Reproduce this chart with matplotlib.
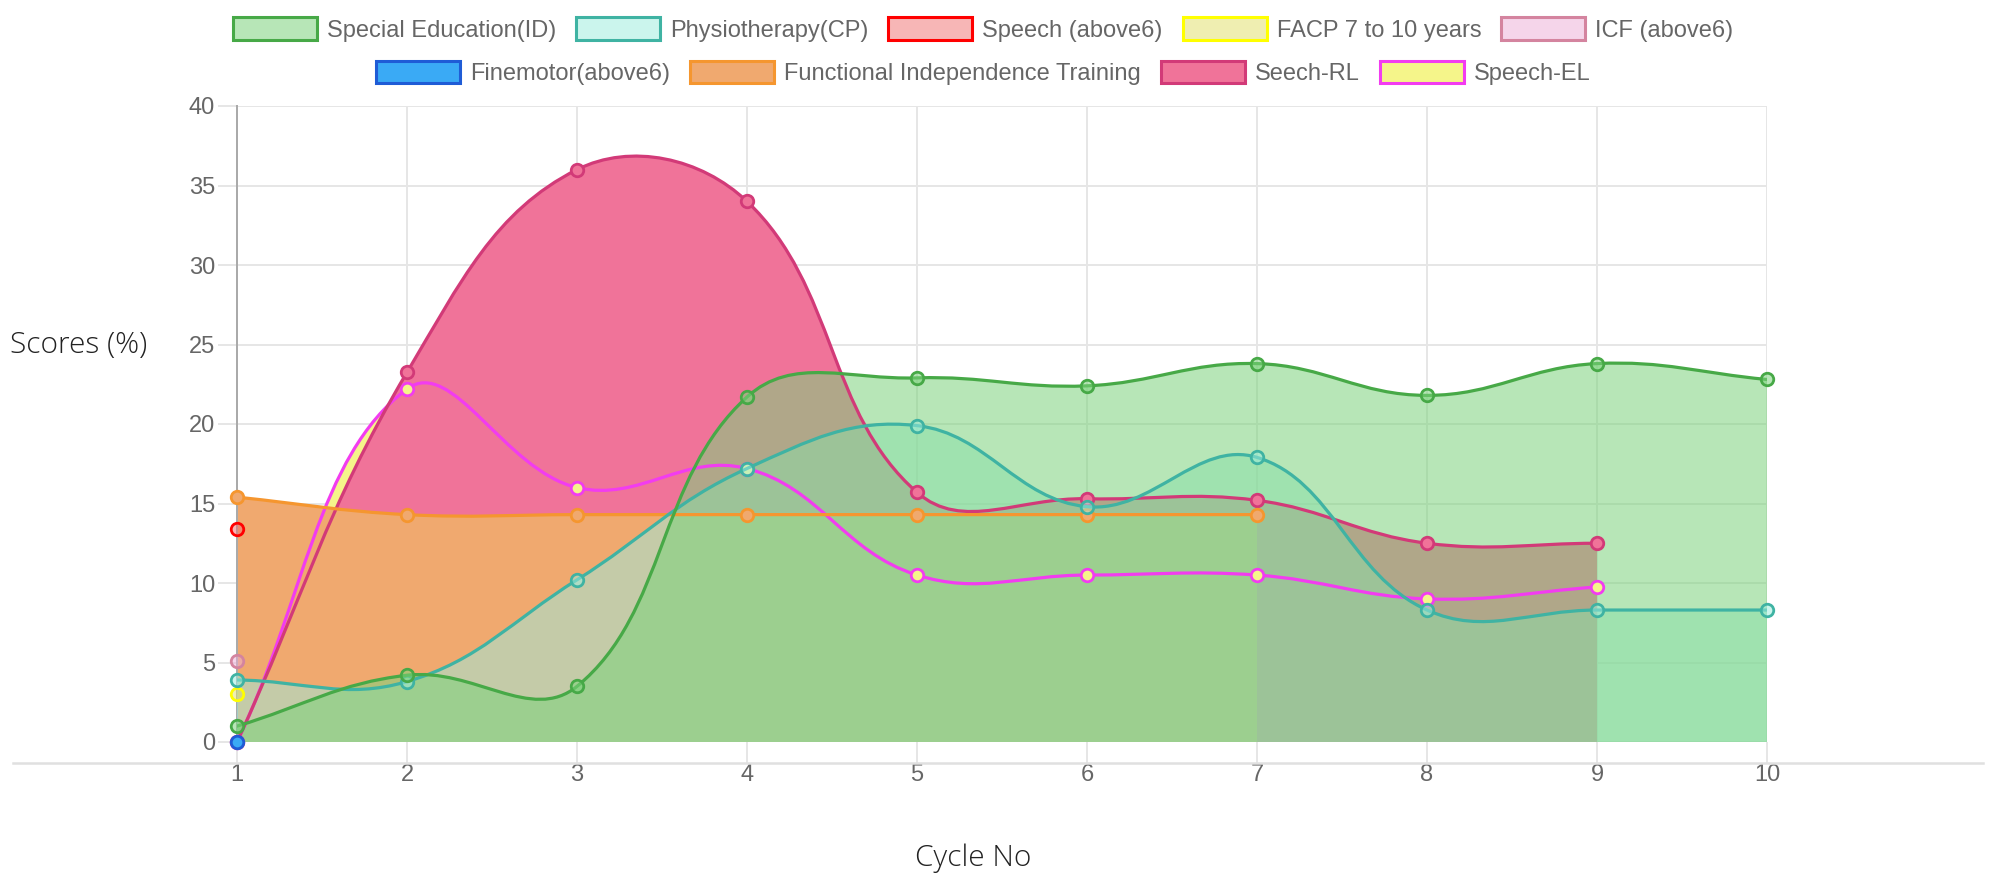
import matplotlib
matplotlib.use('Agg')
import matplotlib.pyplot as plt
import numpy as np
from matplotlib.path import Path
from matplotlib.patches import PathPatch, Rectangle
from matplotlib.lines import Line2D

plt.rcParams['font.family'] = ['Liberation Sans', 'DejaVu Sans']

# data
cycles = list(range(1, 11))
special_edu = [1.0, 4.2, 3.5, 21.7, 22.9, 22.4, 23.8, 21.8, 23.8, 22.8]
physio = [3.9, 3.8, 10.2, 17.2, 19.9, 14.8, 17.9, 8.3, 8.3, 8.3]
speech_above6 = [13.4]
facp = [3.0]
icf = [5.1]
finemotor = [0.0]
fit = [15.4, 14.3, 14.3, 14.3, 14.3, 14.3, 14.3]
speech_rl = [0.0, 23.25, 36.0, 34.0, 15.7, 15.3, 15.2, 12.5, 12.5]
speech_el = [0.0, 22.2, 16.0, 17.2, 10.5, 10.5, 10.5, 9.0, 9.75]

labels = ['Special Education(ID)', 'Physiotherapy(CP)', 'Speech (above6)',
          'FACP 7 to 10 years', 'ICF (above6)', 'Finemotor(above6)',
          'Functional Independence Training', 'Seech-RL', 'Speech-EL']
series = [special_edu, physio, speech_above6, facp, icf, finemotor, fit, speech_rl, speech_el]

# (border colour, fill rgba)
styles = [
    ('#47a947', (124/255, 211/255, 124/255, 0.55)),
    ('#3fb3a3', (157/255, 236/255, 222/255, 0.52)),
    ('#ff0000', (240/255, 110/255, 110/255, 0.5)),
    ('#ffff00', (225/255, 222/255, 100/255, 0.5)),
    ('#d4849f', (236/255, 172/255, 214/255, 0.5)),
    ('#1f5cd6', (58/255, 170/255, 245/255, 1.0)),
    ('#f5962f', (240/255, 169/255, 111/255, 1.0)),
    ('#d23a78', (240/255, 115/255, 153/255, 1.0)),
    ('#f23cf0', (245/255, 245/255, 138/255, 1.0)),
]

W, H = 1993, 876
fig = plt.figure(figsize=(W / 100, H / 100), dpi=100)
ax = fig.add_axes([237 / W, (H - 742) / H, 1530 / W, 636 / H])
ax.set_xlim(1, 10)
ax.set_ylim(0, 40)


def bezier_path(xs, ys, tension=0.4):
    pts = ax.transData.transform(np.column_stack([xs, ys]))
    n = len(pts)
    cp_prev, cp_next = [], []
    for i in range(n):
        cur = pts[i]
        prv = pts[i - 1] if i > 0 else cur
        nxt = pts[i + 1] if i < n - 1 else cur
        d01 = np.hypot(*(cur - prv))
        d12 = np.hypot(*(nxt - cur))
        tot = d01 + d12
        s01 = d01 / tot if tot else 0
        s12 = d12 / tot if tot else 0
        cp_prev.append(cur - tension * s01 * (nxt - prv))
        cp_next.append(cur + tension * s12 * (nxt - prv))
    inv = ax.transData.inverted()
    cp_prev = inv.transform(np.array(cp_prev))
    cp_next = inv.transform(np.array(cp_next))
    cp_prev[:, 1] = np.clip(cp_prev[:, 1], 0, 40)
    cp_next[:, 1] = np.clip(cp_next[:, 1], 0, 40)
    verts = [(xs[0], ys[0])]
    codes = [Path.MOVETO]
    for i in range(n - 1):
        verts += [tuple(cp_next[i]), tuple(cp_prev[i + 1]), (xs[i + 1], ys[i + 1])]
        codes += [Path.CURVE4] * 3
    return verts, codes


# fills first (last dataset at the bottom), then lines and points on top
N = len(series)
for i, (vals, (edge, face)) in enumerate(zip(series, styles)):
    xs = cycles[:len(vals)]
    rank = N - 1 - i
    if len(vals) > 1:
        verts, codes = bezier_path(xs, vals)
        fverts = [(xs[0], 0)] + verts + [(xs[-1], 0), (xs[0], 0)]
        fcodes = [Path.MOVETO, Path.LINETO] + codes[1:] + [Path.LINETO, Path.CLOSEPOLY]
        ax.add_patch(PathPatch(Path(fverts, fcodes), facecolor=face, edgecolor='none',
                               zorder=2 + rank * 0.1))
        ax.add_patch(PathPatch(Path(verts, codes), facecolor='none', edgecolor=edge,
                               lw=2.3, zorder=10 + rank * 2, capstyle='round', joinstyle='round'))
    ax.plot(xs, vals, 'o', ms=9, mfc=face, mec=edge, mew=2, zorder=11 + rank * 2, clip_on=False)

# axes styling
ax.set_xticks(cycles)
ax.set_yticks(range(0, 41, 5))
ax.grid(True, color='#e6e6e6', lw=1.44, zorder=0)
ax.set_axisbelow(True)
for s in ['top', 'right', 'bottom']:
    ax.spines[s].set_visible(False)
ax.spines['left'].set_color('#aaaaaa')
ax.spines['left'].set_linewidth(1.44)
ax.tick_params(axis='y', length=13.7, width=1.44, color='#e6e6e6', pad=2,
               labelsize=17, labelcolor='#666666')
ax.tick_params(axis='x', length=15, width=1.44, color='#e6e6e6', pad=1,
               labelsize=17, labelcolor='#666666')

fig.add_artist(Line2D([13 / W, 1983 / W], [(H - 763) / H] * 2, color='#e0e0e0', lw=1.8))

fig.text(10 / W, (H - 353) / H, 'Scores (%)', ha='left', va='baseline',
         fontsize=21.5, family=['Open Sans', 'DejaVu Sans'], color='#222222', weight='light')
fig.text(973 / W, (H - 866) / H, 'Cycle No', ha='center', va='baseline',
         fontsize=21.5, family=['Open Sans', 'DejaVu Sans'], color='#222222', weight='light')

# two centred legend rows
handles = [Rectangle((0, 0), 1, 1, facecolor=f, edgecolor=e, lw=2.2) for e, f in styles]
common = dict(loc='center', frameon=False, fontsize=17, handlelength=3.56, handleheight=1.06,
              handletextpad=0.42, columnspacing=0.85, labelcolor='#666666', borderpad=0)
fig.legend(handles[:5], labels[:5], ncol=5, bbox_to_anchor=(983 / W, 1 - 29.5 / H), **common)
fig.legend(handles[5:], labels[5:], ncol=4, bbox_to_anchor=(983 / W, 1 - 73 / H), **common)

fig.savefig('out.png', dpi=100)
